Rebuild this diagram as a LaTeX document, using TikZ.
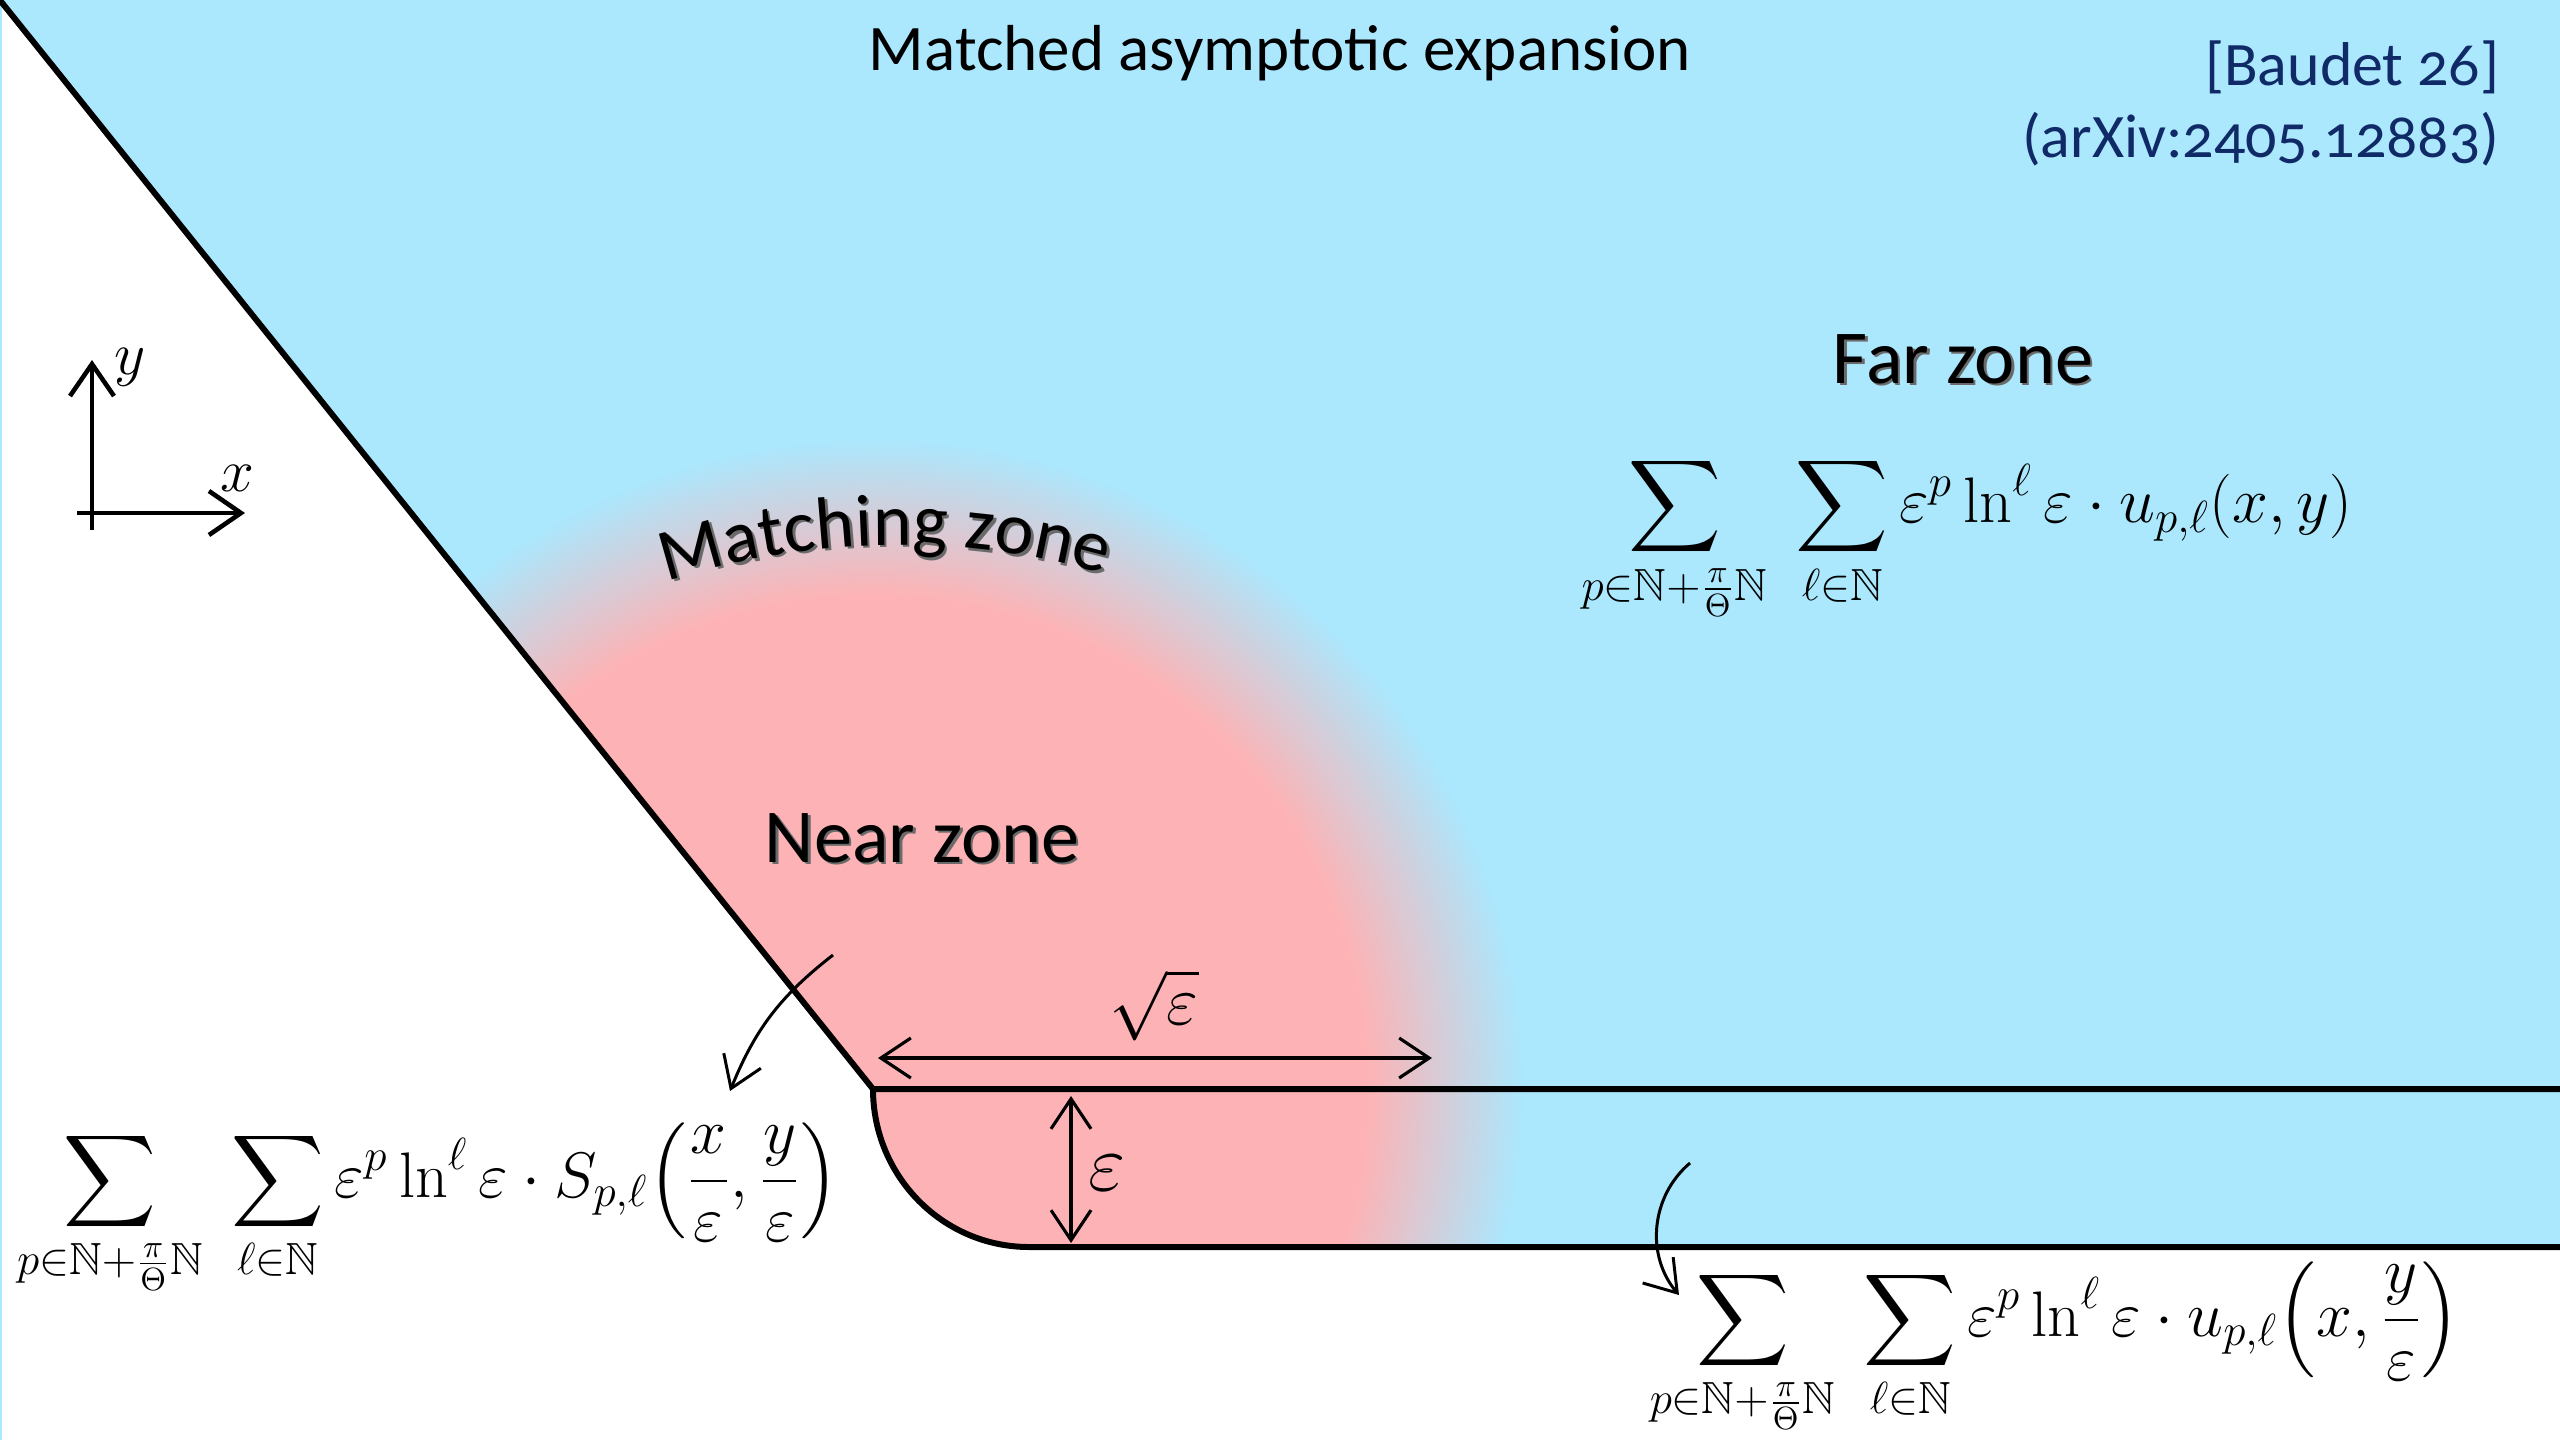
\documentclass[tikz,border=0pt]{standalone}
\usepackage{fix-cm}
\usepackage[no-math]{fontspec}
\usepackage{amsmath}
\usepackage{amssymb}
\usetikzlibrary{
  arrows.meta,
  calc,
  decorations.text
}
\newfontfamily\slidefont{Carlito}
\newfontfamily\slidefontosf{Carlito}[Numbers=OldStyle]
\definecolor{maFar}{HTML}{ABE7FD}
\definecolor{maNear}{HTML}{FDB3B5}
\definecolor{maCite}{HTML}{0F2A66}
\definecolor{maShadow}{HTML}{6A6A6A}
\pgfdeclareradialshading{nearzone}{\pgfpointorigin}{%
  color(0bp)=(maNear); color(19bp)=(maNear); color(25bp)=(maFar); color(50bp)=(maFar)}
\tikzset{
  wall/.style={line width=1.7pt, black, line join=round},
  axisarrow/.style={-{Straight Barb[length=3.2mm, width=4.4mm]}, line width=1.3pt},
  dimarrow/.style={{Straight Barb[length=3mm, width=4mm]}-{Straight Barb[length=3mm, width=4mm]}, line width=0.9pt},
  pointer/.style={-{Straight Barb[length=3mm, width=4mm]}, line width=0.85pt},
  slidetext/.style={font=\slidefont\fontsize{18.5}{22}\selectfont, inner sep=0pt, anchor=base},
  citetext/.style={font=\slidefontosf\fontsize{17.6}{21}\selectfont, text=maCite, inner sep=0pt, anchor=base east},
  zonelabel/.style={font=\slidefont\fontsize{21.7}{26}\selectfont, inner sep=0pt, anchor=base},
  zoneshadow/.style={zonelabel, text=maShadow},
  formula/.style={font=\fontsize{18.3}{22}\selectfont, inner sep=0pt},
  mathlabel/.style={font=\fontsize{17.28}{21}\selectfont, inner sep=0pt}
}

\begin{document}
\begin{tikzpicture}
  \useasboundingbox (0,0) rectangle (25.6,-14.4);
  % domain corners
  \coordinate (tl) at (-0.05,0.06);
  \coordinate (corner) at (8.73,-10.89);
  \coordinate (topend) at (25.6,-10.89);
  \coordinate (botend) at (25.6,-12.47);
  \coordinate (mcenter) at (8.98,-12.84);

  % far zone and near zone
  \fill[maFar] (0,0) rectangle (0.02,-14.4);
  \fill[maFar] (tl) -- (corner) arc[start angle=180, end angle=270, x radius=1.56, y radius=1.58]
    -- (botend) -- (25.6,0.06) -- cycle;
  \begin{scope}
    \clip (tl) -- (corner) arc[start angle=180, end angle=270, x radius=1.56, y radius=1.58]
      -- (botend) -- (25.6,0.06) -- cycle;
    \shade[shading=nearzone] (corner) circle (6.5);
  \end{scope}

  % walls
  \draw[wall] (tl) -- (corner) -- (topend);
  \draw[wall] (corner) arc[start angle=180, end angle=270, x radius=1.56, y radius=1.58] -- (botend);

  % axes
  \coordinate (ax-y0) at (0.92,-5.30);
  \coordinate (ax-y1) at (0.92,-3.60);
  \coordinate (ax-x0) at (0.77,-5.13);
  \coordinate (ax-x1) at (2.45,-5.13);
  \draw[axisarrow] (ax-y0) -- (ax-y1);
  \draw[axisarrow] (ax-x0) -- (ax-x1);
  \node[mathlabel] (ylabel) at (1.30,-3.67) {$y$};
  \node[mathlabel] (xlabel) at (2.37,-4.78) {$x$};

  % titles
  \node[slidetext] (title) at (12.80,-0.70) {Matched asymptotic expansion};
  \node[citetext] (cite) at (25.00,-0.85) {[Baudet 26]};
  \node[citetext] (arxiv) at (25.00,-1.57) {(arXiv:2405.12883)};

  % zone labels
  \node[zoneshadow] (far-sh) at (19.655,-3.855) {Far zone};
  \node[zonelabel] (far) at (19.63,-3.83) {Far zone};
  \node[zoneshadow] (near-sh) at (9.245,-8.645) {Near zone};
  \node[zonelabel] (near) at (9.22,-8.62) {Near zone};
  \path[decorate, decoration={text along path, text align=center,
      text={|\slidefont\fontsize{21}{25}\selectfont\color{maShadow}|Matching zone}}]
    ($(mcenter)+(0.025,-0.025)+(116:7.39)$) arc[start angle=116, end angle=66, radius=7.39];
  \path[decorate, decoration={text along path, text align=center,
      text={|\slidefont\fontsize{21}{25}\selectfont|Matching zone}}]
    ($(mcenter)+(116:7.39)$) arc[start angle=116, end angle=66, radius=7.39];

  % widths
  \coordinate (sq-l) at (8.78,-10.58);
  \coordinate (sq-r) at (14.32,-10.58);
  \draw[dimarrow] (sq-l) -- (sq-r);
  \node[mathlabel, font=\fontsize{19.7}{23}\selectfont] (sqlabel) at (11.54,-10.05) {$\sqrt{\varepsilon}$};
  \coordinate (ep-t) at (10.71,-10.96);
  \coordinate (ep-b) at (10.71,-12.43);
  \draw[dimarrow] (ep-t) -- (ep-b);
  \node[mathlabel, font=\fontsize{23}{27}\selectfont] (eplabel) at (11.07,-11.73) {$\varepsilon$};

  % expansions
  \node[formula] (farsum) at (19.67,-5.39)
    {$\displaystyle\sum_{p\in\mathbb{N}+\frac{\pi}{\Theta}\mathbb{N}}\;\sum_{\ell\in\mathbb{N}}
      \varepsilon^p\ln^\ell\varepsilon\cdot u_{p,\ell}(x,y)$};
  \node[formula] (nearsum) at (4.28,-12.10)
    {$\displaystyle\sum_{p\in\mathbb{N}+\frac{\pi}{\Theta}\mathbb{N}}\;\sum_{\ell\in\mathbb{N}}
      \varepsilon^p\ln^\ell\varepsilon\cdot S_{p,\ell}\!\left(\frac{x}{\varepsilon},\frac{y}{\varepsilon}\right)$};
  \node[formula] (stripsum) at (20.55,-13.49)
    {$\displaystyle\sum_{p\in\mathbb{N}+\frac{\pi}{\Theta}\mathbb{N}}\;\sum_{\ell\in\mathbb{N}}
      \varepsilon^p\ln^\ell\varepsilon\cdot u_{p,\ell}\!\left(x,\frac{y}{\varepsilon}\right)$};

  % pointers to the expansions
  \coordinate (nz-from) at (8.33,-9.55);
  \coordinate (nz-to) at (7.30,-10.91);
  \draw[pointer] (nz-from) to[bend right=15] (nz-to);
  \coordinate (bl-from) at (16.90,-11.63);
  \coordinate (bl-to) at (16.79,-12.95);
  \draw[pointer] (bl-from) to[bend right=45] (bl-to);
\end{tikzpicture}
\end{document}
